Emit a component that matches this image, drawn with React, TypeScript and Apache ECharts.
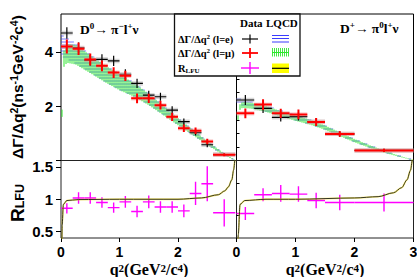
import React, { useEffect, useRef } from 'react';
import * as echarts from 'echarts';

const SERIF = '"Liberation Serif","DejaVu Serif",serif';
const SANS = '"Liberation Sans","DejaVu Sans",sans-serif';

// ---------- D0 -> pi- l+ nu : dGamma/dq2 ----------
const d0BinLo = [0, 0.2, 0.4, 0.6, 0.8, 1.0, 1.2, 1.4, 1.6, 1.8, 2.0, 2.2, 2.4, 2.6];
const d0BinHi = [0.2, 0.4, 0.6, 0.8, 1.0, 1.2, 1.4, 1.6, 1.8, 2.0, 2.2, 2.4, 2.6, 2.98];
const d0Elec = [4.70, 4.15, 3.70, 3.73, 3.67, 3.18, 2.84, 2.41, 2.35, 1.86, 1.43, 1.03, 0.58, 0.22];
const d0ElecErr = [0.21, 0.2, 0.2, 0.19, 0.19, 0.18, 0.17, 0.16, 0.15, 0.14, 0.12, 0.11, 0.09, 0.05];
const d0Muon = [4.20, 4.12, 3.72, 3.49, 3.24, 3.12, 2.29, 2.29, 2.04, 1.61, 1.19, 1.10, 0.70, 0.21];
const d0MuonErr = [0.26, 0.23, 0.22, 0.2, 0.2, 0.19, 0.18, 0.17, 0.16, 0.15, 0.14, 0.12, 0.1, 0.05];
const d0Ratio = [0.86, 1.02, 1.02, 0.95, 0.87, 0.96, 0.81, 0.96, 0.88, 0.88, 0.82, 1.09, 1.24, 0.79];
const d0RatioErr = [0.08, 0.09, 0.09, 0.08, 0.08, 0.09, 0.09, 0.1, 0.09, 0.09, 0.1, 0.18, 0.27, 0.21];

// ---------- D+ -> pi0 l+ nu ----------
const dpBinLo = [0, 0.3, 0.6, 0.9, 1.2, 1.5, 2.0];
const dpBinHi = [0.3, 0.6, 0.9, 1.2, 1.5, 2.0, 3.0];
const dpElec = [2.23, 1.92, 1.59, 1.62, 1.43, 0.98, 0.37];
const dpElecErr = [0.18, 0.17, 0.15, 0.15, 0.13, 0.1, 0.06];
const dpMuon = [1.74, 2.06, 1.74, 1.70, 1.42, 0.98, 0.37];
const dpMuonErr = [0.18, 0.2, 0.17, 0.18, 0.15, 0.1, 0.06];
const dpRatio = [0.78, 1.07, 1.09, 1.08, 0.98, 0.95, 0.95];
const dpRatioErr = [0.1, 0.1, 0.13, 0.12, 0.12, 0.12, 0.14];

// ---------- LQCD predictions ----------
const d0LqcdEQ = [0, 0.25, 0.5, 0.75, 1.0, 1.25, 1.5, 1.75, 2.0, 2.25, 2.5, 2.75, 2.98];
const d0LqcdE = [4.25, 3.95, 3.58, 3.22, 2.9, 2.62, 2.27, 1.86, 1.44, 1.05, 0.65, 0.28, 0];
const d0LqcdEUnc = [0.4, 0.38, 0.34, 0.32, 0.3, 0.26, 0.22, 0.18, 0.14, 0.11, 0.08, 0.05, 0.01];
const d0LqcdMuQ = [0.0112, 0.02, 0.05, 0.1, 0.25, 0.5, 0.75, 1.0, 1.25, 1.5, 1.75, 2.0, 2.25, 2.5, 2.75, 2.98];
const d0LqcdMu = [0, 2.6, 3.75, 3.95, 3.9, 3.55, 3.2, 2.88, 2.6, 2.25, 1.84, 1.43, 1.04, 0.64, 0.28, 0];
const d0LqcdMuUnc = [0, 0.2, 0.3, 0.35, 0.36, 0.33, 0.31, 0.29, 0.25, 0.21, 0.17, 0.13, 0.1, 0.07, 0.04, 0.01];

const dpLqcdEQ = [0, 0.25, 0.5, 0.75, 1.0, 1.25, 1.5, 1.75, 2.0, 2.25, 2.5, 2.75, 3.0];
const dpLqcdE = [2.2, 2.06, 1.92, 1.74, 1.58, 1.42, 1.22, 0.98, 0.74, 0.53, 0.34, 0.17, 0.02];
const dpLqcdEUnc = [0.11, 0.11, 0.11, 0.11, 0.1, 0.09, 0.08, 0.07, 0.06, 0.05, 0.04, 0.02, 0.01];
const dpLqcdMuQ = [0.0112, 0.02, 0.05, 0.1, 0.25, 0.5, 0.75, 1.0, 1.25, 1.5, 1.75, 2.0, 2.25, 2.5, 2.75, 3.0];
const dpLqcdMu = [0, 1.5, 1.95, 2.05, 2.02, 1.9, 1.72, 1.56, 1.41, 1.21, 0.97, 0.73, 0.52, 0.33, 0.16, 0.01];
const dpLqcdMuUnc = [0, 0.08, 0.1, 0.11, 0.11, 0.11, 0.1, 0.1, 0.09, 0.08, 0.07, 0.06, 0.05, 0.04, 0.02, 0.01];

const d0RQ = [0.0112, 0.02, 0.04, 0.1, 0.3, 1.0, 2.0, 2.4, 2.69, 2.8, 2.86, 2.92, 2.95, 2.97];
const d0RCurve = [0, 0.6, 0.92, 0.98, 0.995, 1.0, 1.0, 1.02, 1.07, 1.13, 1.19, 1.3, 1.45, 1.6];
const dpRQ = [0.0112, 0.03, 0.06, 0.14, 0.5, 1.0, 2.0, 2.4, 2.66, 2.8, 2.89, 2.95, 2.98, 3.0];
const dpRCurve = [0, 0.45, 0.92, 0.98, 1.0, 1.0, 1.02, 1.04, 1.1, 1.18, 1.3, 1.45, 1.6, 1.75];

// ---------- axis ticks ----------
const xTicks = [0, 1, 2, 3];
const topMajor = [0, 2, 4];
const topLabels = [2, 4];
const topMinor = [0.5, 1, 1.5, 2.5, 3, 3.5, 4.5, 5];
const botMajor = [0.5, 1, 1.5];
const botMinor = [0.75, 1.25];

// hatch lines clipped to a polygon (scanline)
function hatch(points: number[][], dir: 'h' | 'v', step: number, stroke: string, lw: number) {
  const a = dir === 'h' ? 1 : 0;
  const b = 1 - a;
  let mn = Infinity, mx = -Infinity;
  points.forEach((p) => { mn = Math.min(mn, p[a]); mx = Math.max(mx, p[a]); });
  const out: any[] = [];
  const start = Math.ceil(mn / step) * step;
  for (let s = start; s <= mx; s += step) {
    const xs: number[] = [];
    for (let i = 0; i < points.length; i++) {
      const p = points[i];
      const q = points[(i + 1) % points.length];
      if ((p[a] <= s && q[a] > s) || (q[a] <= s && p[a] > s)) {
        const t = (s - p[a]) / (q[a] - p[a]);
        xs.push(p[b] + t * (q[b] - p[b]));
      }
    }
    xs.sort((u, v) => u - v);
    for (let k = 0; k + 1 < xs.length; k += 2) {
      const shape = dir === 'h'
        ? { x1: xs[k], y1: s, x2: xs[k + 1], y2: s }
        : { x1: s, y1: xs[k], x2: s, y2: xs[k + 1] };
      out.push({ type: 'line', shape, style: { stroke, lineWidth: lw } });
    }
  }
  return out;
}

function bandSeries(g: number, q: number[], c: number[], u: number[], dir: 'h' | 'v', color: string, step: number, lw: number) {
  const lo = c.map((v, i) => v - u[i]);
  const hi = c.map((v, i) => v + u[i]);
  return {
    type: 'custom',
    xAxisIndex: g,
    yAxisIndex: g,
    clip: true,
    silent: true,
    data: q.map((x, i) => [x, lo[i], hi[i]]),
    encode: { x: 0, y: [1, 2] },
    renderItem: (params: any, api: any) => {
      if (params.dataIndex !== 0) return null;
      const top = q.map((x, i) => api.coord([x, hi[i]]));
      const bot = q.map((x, i) => api.coord([x, lo[i]])).reverse();
      const pts = top.concat(bot);
      return { type: 'group', children: hatch(pts, dir, step, color, lw) };
    },
  };
}

function crossSeries(g: number, lo: number[], hi: number[], v: number[], e: number[], color: string, lw: number, box: string | null) {
  return {
    type: 'custom',
    xAxisIndex: g,
    yAxisIndex: g,
    clip: true,
    silent: true,
    data: lo.map((l, i) => [l, hi[i], v[i], e[i]]),
    encode: { x: [0, 1], y: 2 },
    renderItem: (params: any, api: any) => {
      const l = api.value(0), h = api.value(1), y = api.value(2), err = api.value(3);
      const m = (l + h) / 2;
      const a = api.coord([l, y]);
      const b = api.coord([h, y]);
      const t = api.coord([m, y + err]);
      const d = api.coord([m, y - err]);
      const children: any[] = [];
      if (box) {
        children.push({
          type: 'rect',
          shape: { x: a[0], y: a[1] - 2.2, width: b[0] - a[0], height: 4.4 },
          style: { fill: box },
        });
      }
      children.push({ type: 'line', shape: { x1: a[0], y1: a[1], x2: b[0], y2: b[1] }, style: { stroke: color, lineWidth: lw } });
      children.push({ type: 'line', shape: { x1: t[0], y1: t[1], x2: d[0], y2: d[1] }, style: { stroke: color, lineWidth: lw } });
      return { type: 'group', children };
    },
  };
}

function curveSeries(g: number, q: number[], r: number[]) {
  const data = q.map((x, i) => [x, r[i]]);
  return [
    { type: 'line', xAxisIndex: g, yAxisIndex: g, data, showSymbol: false, symbol: 'none', clip: true, silent: true, smooth: 0.3, smoothMonotone: 'x', lineStyle: { color: 'rgba(255,230,0,0.5)', width: 1.8 } },
    { type: 'line', xAxisIndex: g, yAxisIndex: g, data, showSymbol: false, symbol: 'none', clip: true, silent: true, smooth: 0.3, smoothMonotone: 'x', lineStyle: { color: '#333322', width: 1 } },
  ];
}

const supRich = (family: string, size: number, sup: number, lh: number) => ({
  a: { fontFamily: family, fontWeight: 'bold', fontSize: size, lineHeight: lh, fill: '#000' },
  s: { fontFamily: family, fontWeight: 'bold', fontSize: sup, lineHeight: sup + 1, verticalAlign: 'top', fill: '#000' },
  b: { fontFamily: family, fontWeight: 'bold', fontSize: sup, lineHeight: sup + 1, verticalAlign: 'bottom', fill: '#000' },
});

export default function App() {
  const ref = useRef<HTMLDivElement>(null);
  useEffect(() => {
    document.body.style.margin = '0';
    const chart = echarts.init(ref.current!, null, { renderer: 'svg' });

    const grids = [
      { left: 61, top: 14, width: 175.5, height: 146.5, borderColor: '#000' },
      { left: 236.5, top: 14, width: 177, height: 146.5, borderColor: '#000' },
      { left: 61, top: 160.5, width: 175.5, height: 77.5, borderColor: '#222' },
      { left: 236.5, top: 160.5, width: 177, height: 77.5, borderColor: '#222' },
    ].map((g) => ({ ...g, show: true, borderWidth: 1, containLabel: false, outerBoundsMode: 'none' }));

    const tickLabel = { fontFamily: SANS, fontWeight: 'bold', fontSize: 15, color: '#000' };

    const xAxis = [0, 1, 2, 3].map((g) => ({
      gridIndex: g,
      type: 'value',
      min: 0,
      max: 3,
      show: g >= 2,
      axisLine: { show: false },
      splitLine: { show: false },
      axisTick: { show: true, length: 4, customValues: xTicks, lineStyle: { color: '#000' } },
      axisLabel: {
        ...tickLabel,
        fontSize: 14,
        lineHeight: 14,
        margin: 7,
        customValues: g === 2 ? xTicks.slice(0, 3) : xTicks,
        formatter: (v: number) => String(v),
      },
    }));

    const yAxis: any[] = [
      {
        gridIndex: 0, type: 'value', min: 0, max: 5.4,
        axisLine: { show: false }, splitLine: { show: false },
        axisTick: { length: 5, customValues: topMajor, lineStyle: { color: '#000' } },
        axisLabel: { ...tickLabel, margin: 8, customValues: topLabels, formatter: (v: number) => String(v) },
      },
      { gridIndex: 1, type: 'value', min: 0, max: 5.4, show: false },
      {
        gridIndex: 2, type: 'value', min: 0.4, max: 1.6,
        axisLine: { show: false }, splitLine: { show: false },
        axisTick: { length: 5, customValues: botMajor, lineStyle: { color: '#000' } },
        axisLabel: { ...tickLabel, margin: 8, customValues: botMajor, formatter: (v: number) => String(v) },
      },
      { gridIndex: 3, type: 'value', min: 0.4, max: 1.6, show: false },
      {
        gridIndex: 0, type: 'value', min: 0, max: 5.4,
        axisLine: { show: false }, splitLine: { show: false },
        axisTick: { length: 3, customValues: topMinor, lineStyle: { color: '#000' } },
        axisLabel: { show: false },
      },
      {
        gridIndex: 2, type: 'value', min: 0.4, max: 1.6,
        axisLine: { show: false }, splitLine: { show: false },
        axisTick: { length: 3, customValues: botMinor, lineStyle: { color: '#000' } },
        axisLabel: { show: false },
      },
    ];

    const BLUE = '#3c3cff';
    const GREEN = '#2ee62e';
    const series: any[] = [
      bandSeries(0, d0LqcdEQ, d0LqcdE, d0LqcdEUnc, 'h', BLUE, 3, 0.7),
      bandSeries(0, d0LqcdMuQ, d0LqcdMu, d0LqcdMuUnc, 'v', GREEN, 2, 1),
      crossSeries(0, d0BinLo, d0BinHi, d0Elec, d0ElecErr, '#000', 1.2, 'rgba(170,170,170,0.45)'),
      crossSeries(0, d0BinLo, d0BinHi, d0Muon, d0MuonErr, '#ff0000', 2, 'rgba(240,150,150,0.45)'),
      bandSeries(1, dpLqcdEQ, dpLqcdE, dpLqcdEUnc, 'h', BLUE, 3, 0.7),
      bandSeries(1, dpLqcdMuQ, dpLqcdMu, dpLqcdMuUnc, 'v', GREEN, 2, 1),
      crossSeries(1, dpBinLo, dpBinHi, dpElec, dpElecErr, '#000', 1.2, 'rgba(170,170,170,0.45)'),
      crossSeries(1, dpBinLo, dpBinHi, dpMuon, dpMuonErr, '#ff0000', 2, 'rgba(240,150,150,0.45)'),
      ...curveSeries(2, d0RQ, d0RCurve),
      crossSeries(2, d0BinLo, d0BinHi, d0Ratio, d0RatioErr, '#ff00ff', 1.4, null),
      ...curveSeries(3, dpRQ, dpRCurve),
      crossSeries(3, dpBinLo, dpBinHi, dpRatio, dpRatioErr, '#ff00ff', 1.4, null),
    ];

    const Z = 100;
    const line = (x1: number, y1: number, x2: number, y2: number, stroke: string, lw: number) => ({
      type: 'line', z: Z + 1, shape: { x1, y1, x2, y2 }, style: { stroke, lineWidth: lw },
    });
    const legRich = supRich(SERIF, 10.5, 7, 12);
    const greenLegend: any[] = [];
    for (let x = 272.5; x <= 289; x += 2) greenLegend.push(line(x, 48, x, 56.5, GREEN, 0.9));
    const graphic: any[] = [
      // panel titles
      { type: 'text', x: 80, y: 29, z: Z, style: { text: '{a|D}{s|0}{a|→ π}{s|−}{a|l}{s|+}{a|ν}', rich: supRich(SERIF, 13.5, 9, 16), align: 'left', verticalAlign: 'middle' } },
      { type: 'text', x: 340, y: 28, z: Z, style: { text: '{a|D}{s|+}{a|→ π}{s|0}{a|l}{s|+}{a|ν}', rich: supRich(SERIF, 13.5, 9, 16), align: 'left', verticalAlign: 'middle' } },
      // legend
      { type: 'rect', z: Z, shape: { x: 174.5, y: 14, width: 125.5, height: 62 }, style: { fill: '#fff', stroke: '#111', lineWidth: 1.3 } },
      { type: 'text', x: 240, y: 23, z: Z + 1, style: { text: 'Data', fontFamily: SERIF, fontWeight: 'bold', fontSize: 11, fill: '#000', align: 'left', verticalAlign: 'middle' } },
      { type: 'text', x: 266, y: 23, z: Z + 1, style: { text: 'LQCD', fontFamily: SERIF, fontWeight: 'bold', fontSize: 11, fill: '#000', align: 'left', verticalAlign: 'middle' } },
      { type: 'text', x: 178, y: 39, z: Z + 1, style: { text: '{a|ΔΓ/Δq}{s|2}{a| (l=e)}', rich: legRich, align: 'left', verticalAlign: 'middle' } },
      { type: 'text', x: 178, y: 53, z: Z + 1, style: { text: '{a|ΔΓ/Δq}{s|2}{a| (l=μ)}', rich: legRich, align: 'left', verticalAlign: 'middle' } },
      { type: 'text', x: 178, y: 68, z: Z + 1, style: { text: '{a|R}{b|LFU}', rich: legRich, align: 'left', verticalAlign: 'middle' } },
      line(242, 39, 258, 39, '#000', 1.2), line(250, 34.5, 250, 43.5, '#000', 1.2),
      line(242, 53, 258, 53, '#ff0000', 1.8), line(250, 48, 250, 58, '#ff0000', 1.8),
      line(241, 68, 259, 68, '#ff00ff', 1.4), line(250, 62, 250, 74, '#ff00ff', 1.4),
      line(272, 35.5, 289, 35.5, BLUE, 1), line(272, 38.5, 289, 38.5, BLUE, 1), line(272, 42, 289, 42, BLUE, 1),
      ...greenLegend,
      line(272, 52.5, 289, 52.5, GREEN, 1),
      { type: 'rect', z: Z + 1, shape: { x: 272, y: 63.5, width: 17, height: 9.5 }, style: { fill: '#ffff00' } },
      line(272, 68.3, 289, 68.3, '#000', 1.2),
      // axis titles
      { type: 'text', x: 17, y: 87, rotation: Math.PI / 2, z: Z, style: { text: '{a|ΔΓ/Δq}{s|2}{a|(ns}{s|-1}{a|GeV}{s|-2}{a|c}{s|4}{a|)}', rich: supRich(SANS, 15.5, 10.5, 18), align: 'center', verticalAlign: 'middle' } },
      { type: 'text', x: 17, y: 203, rotation: Math.PI / 2, z: Z, style: { text: '{a|R}{b|LFU}', rich: { ...supRich(SANS, 19, 12.5, 19), b: { fontFamily: SANS, fontWeight: 'bold', fontSize: 12.5, lineHeight: 12, verticalAlign: 'bottom', fill: '#000' } }, align: 'center', verticalAlign: 'middle' } },
      { type: 'text', x: 149, y: 269.5, z: Z, style: { text: '{a|q}{s|2}{a|(GeV}{s|2}{a|/c}{s|4}{a|)}', rich: supRich(SERIF, 16, 11, 14), align: 'center', verticalAlign: 'middle' } },
      { type: 'text', x: 325, y: 269.5, z: Z, style: { text: '{a|q}{s|2}{a|(GeV}{s|2}{a|/c}{s|4}{a|)}', rich: supRich(SERIF, 16, 11, 14), align: 'center', verticalAlign: 'middle' } },
    ];

    chart.setOption({
      animation: false,
      backgroundColor: '#fff',
      grid: grids,
      xAxis,
      yAxis,
      series,
      graphic,
    });
    return () => chart.dispose();
  }, []);
  return <div ref={ref} style={{ width: 417, height: 277 }} />;
}
